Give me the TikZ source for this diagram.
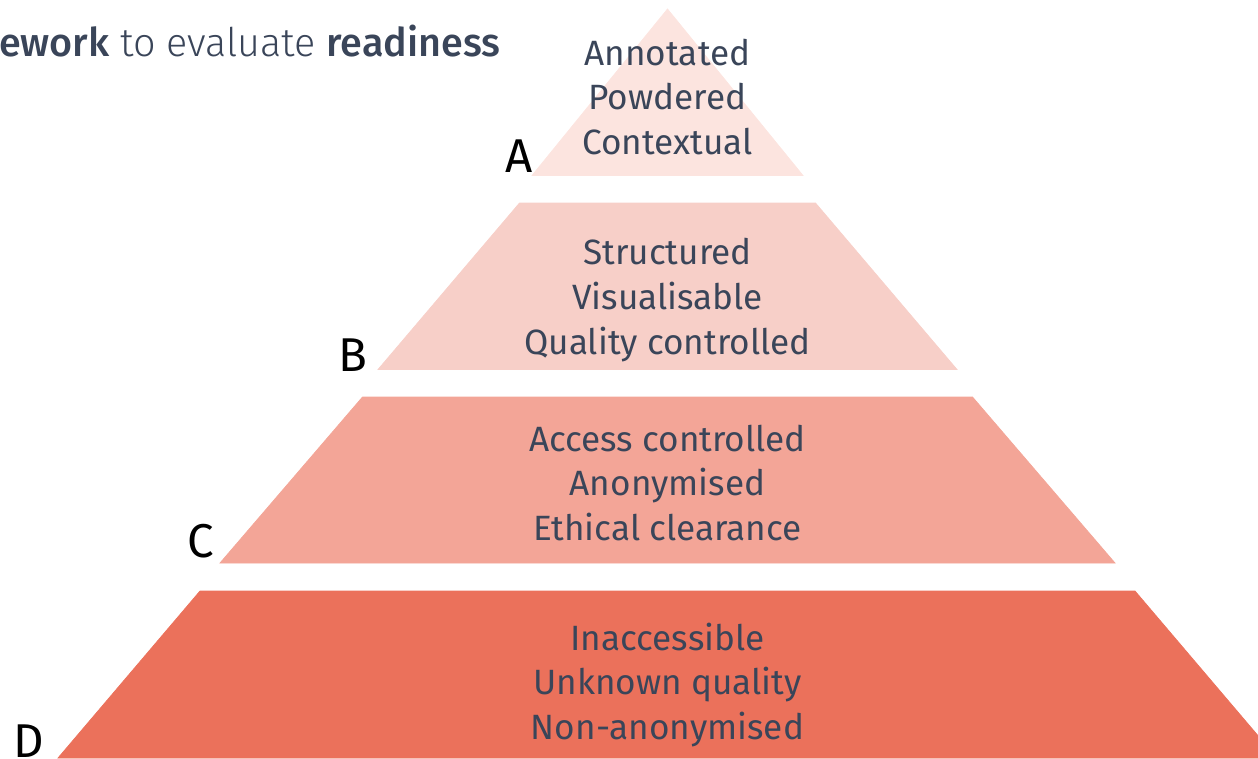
\documentclass[tikz,border=0pt]{standalone}
\usepackage{fontspec}
\setmainfont{Fira Sans}
\newfontfamily\titlelight{Fira Sans Light}
\newfontfamily\titlemedium{Fira Sans Medium}
\usetikzlibrary{calc}
\definecolor{tierA}{HTML}{FCE4DF}
\definecolor{tierB}{HTML}{F7CFC8}
\definecolor{tierC}{HTML}{F3A597}
\definecolor{tierD}{HTML}{EB715B}
\definecolor{slate}{HTML}{3A4559}

\begin{document}
\begin{tikzpicture}[x=0.02cm, y=-0.02cm,
		tiertext/.style={text=slate, align=center, inner sep=0, font=\fontsize{20}{25.5}\selectfont},
		tierlabel/.style={anchor=base east, inner sep=0, font=\fontsize{27}{30}\selectfont}]
			%%%%% START %%%%%
			
			\useasboundingbox (0, 0) rectangle (1258, 758);
			
			\node[anchor=base east, inner sep=0, text=slate, font=\fontsize{22.5}{27}\selectfont] (title) at (501, 56) {{\titlemedium ework} {\titlelight to evaluate} {\titlemedium readiness}};
			
			\draw[tierA, fill=tierA] (667.5, 9) -- (803, 175.5) -- (532, 175.5) -- cycle;
			\node[tiertext] (textA) at (667.5, 97) {Annotated\\Powdered\\Contextual};
			\node[tierlabel] (labelA) at (533, 172) {A};
			
			\draw[tierB, fill=tierB] (519.5, 203) -- (815.5, 203) -- (957, 369.5) -- (378, 369.5) -- cycle;
			\node[tiertext] (textB) at (667.5, 300) {Structured\\Visualisable\\Quality controlled};
			\node[tierlabel] (labelB) at (368, 371) {B};
			
			\draw[tierC, fill=tierC] (362.5, 397) -- (972.5, 397) -- (1115, 563) -- (220, 563) -- cycle;
			\node[tiertext] (textC) at (667.5, 483) {Access controlled\\Anonymised\\Ethical clearance};
			\node[tierlabel] (labelC) at (214, 557) {C};
			
			\draw[tierD, fill=tierD] (200, 591) -- (1135, 591) -- (1277, 758) -- (58, 758) -- cycle;
			\node[tiertext] (textD) at (667.5, 685) {Inaccessible\\Unknown quality\\Non-anonymised};
			\node[tierlabel] (labelD) at (44, 757) {D};
			
			%%%%% END %%%%%
\end{tikzpicture}
\end{document}
